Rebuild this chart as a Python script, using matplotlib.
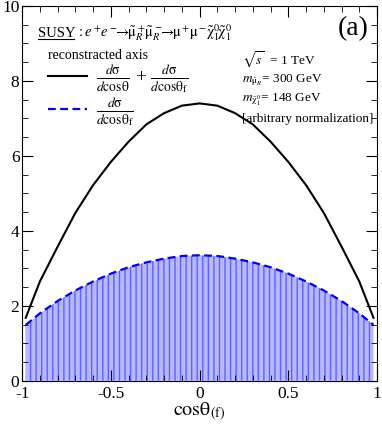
import numpy as np
import matplotlib
matplotlib.use("Agg")
import matplotlib.pyplot as plt
from matplotlib.ticker import MultipleLocator

plt.rcParams['font.family'] = ['Liberation Serif', 'DejaVu Serif']
plt.rcParams['mathtext.fontset'] = 'stix'

# values
cos_theta = [-0.98, -0.9, -0.8, -0.7, -0.6, -0.5, -0.4, -0.3, -0.2, -0.1, 0.0,
             0.1, 0.2, 0.3, 0.4, 0.5, 0.6, 0.7, 0.8, 0.9, 0.98]
sum_dist = [1.68, 2.65, 3.58, 4.48, 5.22, 5.84, 6.38, 6.84, 7.14, 7.34, 7.40,
            7.34, 7.14, 6.84, 6.38, 5.84, 5.22, 4.48, 3.58, 2.65, 1.68]
f_dist = [1.49, 1.80, 2.13, 2.41, 2.65, 2.86, 3.03, 3.16, 3.26, 3.33, 3.35,
          3.33, 3.26, 3.16, 3.03, 2.86, 2.65, 2.41, 2.13, 1.80, 1.49]

fig = plt.figure(figsize=(3.82, 4.25), dpi=100)
ax = fig.add_axes([0.058, 0.104, 0.929, 0.882])

x = np.array(cos_theta)
ax.fill_between(x, 0, f_dist, facecolor='#b8b8ff', edgecolor='#6060ff',
                hatch='|||', linewidth=0)
l1, = ax.plot(x, sum_dist, color='black', lw=1.5)
l2, = ax.plot(x, f_dist, color='blue', lw=1.6, ls=(0, (3.5, 2)))

ax.set_xlim(-1, 1)
ax.set_ylim(0, 10)
ax.xaxis.set_minor_locator(MultipleLocator(0.1))
ax.yaxis.set_major_locator(MultipleLocator(2))
ax.yaxis.set_minor_locator(MultipleLocator(0.5))
ax.set_xticks([-1, -0.5, 0, 0.5, 1])
ax.set_xticklabels(['-1', '-0.5', '0', '0.5', '1'])
ax.tick_params(which='both', direction='in', top=True, right=True, labelsize=12.5)
ax.tick_params(axis='x', pad=4)
ax.tick_params(axis='y', pad=2)
ax.tick_params(which='major', length=8)
ax.tick_params(which='minor', length=4)
ax.set_xlabel(r'$\mathrm{cosθ_{(f)}}$', fontsize=14.5, labelpad=-1)

ax.text(0.045, 0.918, 'SUSY', transform=ax.transAxes, fontsize=10.5, va='baseline')
ax.plot([0.045, 0.146], [0.911, 0.911], transform=ax.transAxes, color='black', lw=0.8)
ax.text(0.152, 0.918,
        r'$:e^+\!e^-\!\!\!\rightarrow\!\! \tilde{\mathrm{μ}}^+_R\!\tilde{\mathrm{μ}}^-_R\!\!\!\rightarrow\!\!'
        r' \mathrm{μ}^+\!\mathrm{μ}^-\!\tilde{\mathrm{χ}}^0_1\!\tilde{\mathrm{χ}}^0_1$',
        transform=ax.transAxes, fontsize=10.5, va='baseline')
ax.text(0.976, 0.939, '(a)', transform=ax.transAxes, fontsize=20, ha='right', va='center')

leg = ax.legend([l1, l2],
                [r'$\frac{d\mathrm{σ}}{d\mathrm{cosθ}}$ + $\frac{d\mathrm{σ}}{d\mathrm{cosθ_f}}$',
                 r'$\frac{d\mathrm{σ}}{d\mathrm{cosθ_f}}$'],
                title='reconstracted axis', loc='upper left',
                bbox_to_anchor=(0.072, 0.885), frameon=False, fontsize=14,
                title_fontsize=10, handlelength=2.0, labelspacing=0.0,
                handletextpad=0.5, alignment='left', borderaxespad=0, borderpad=0)

ax.text(0.62, 0.856, r'$\sqrt{s}$  = 1 TeV', transform=ax.transAxes, fontsize=9.5, va='center')
ax.text(0.62, 0.803, r'$m_{\tilde{\mathrm{μ}}_R}$= 300 GeV', transform=ax.transAxes,
        fontsize=9.5, va='center')
ax.text(0.62, 0.749, r'$m_{\tilde{\mathrm{χ}}^0_1}$= 148 GeV', transform=ax.transAxes,
        fontsize=9.5, va='center')
ax.text(0.62, 0.699, '[arbitrary normalization]', transform=ax.transAxes, fontsize=9.5,
        va='center')

fig.savefig('out.png', dpi=100)
